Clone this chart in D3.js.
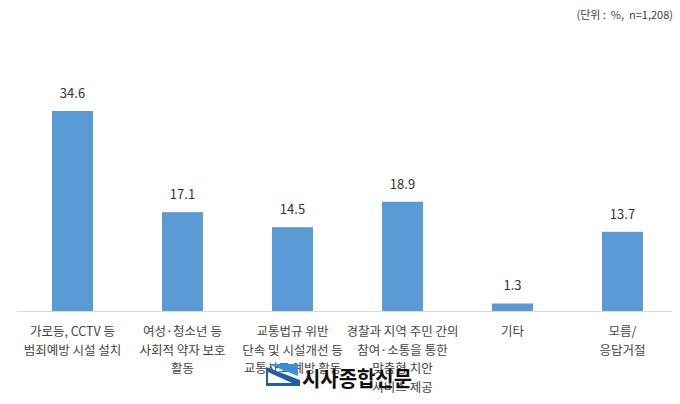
<!DOCTYPE html>
<html><head><meta charset="utf-8">
<script src="https://cdn.jsdelivr.net/npm/d3@7"></script>
<style>body{margin:0;background:#fff;} svg{display:block;}</style>
</head><body>
<svg id="c" width="680" height="404"></svg>
<script>
const categories = [
  ["가로등, CCTV 등","범죄예방 시설 설치"],
  ["여성·청소년 등","사회적 약자 보호","활동"],
  ["교통법규 위반","단속 및 시설개선 등","교통사고 예방 활동"],
  ["경찰과 지역 주민 간의","참여·소통을 통한","맞춤형 치안","서비스 제공"],
  ["기타"],
  ["모름/","응답거절"]
];
const values = [34.6, 17.1, 14.5, 18.9, 1.3, 13.7];
const unitLabel = "(단위 :  %,  n=1,208)";

const svg = d3.select("#c");
const font = "'Noto Sans CJK KR','Noto Sans',sans-serif";
const x = d3.scaleBand().domain(d3.range(values.length)).range([17.5, 677.5]).paddingInner(0).paddingOuter(0);
const y = d3.scaleLinear().domain([0, 34.6]).range([311, 111]);
const bw = 41;

svg.append("text").attr("x", 673).attr("y", 19).attr("text-anchor", "end")
  .attr("font-family", font).attr("font-size", 11).attr("fill", "#444")
  .attr("xml:space", "preserve").style("white-space", "pre").text(unitLabel);

svg.append("line").attr("x1", 17).attr("x2", 672).attr("y1", 311.5).attr("y2", 311.5)
  .attr("stroke", "#d9d9d9").attr("stroke-width", 1);

const g = svg.selectAll("g.bar").data(values).join("g").attr("class", "bar");
g.append("rect")
  .attr("x", (d, i) => x(i) + x.bandwidth() / 2 - bw / 2)
  .attr("width", bw)
  .attr("y", d => y(d))
  .attr("height", d => y(0) - y(d))
  .attr("fill", "#5b9bd5");
g.append("text")
  .attr("x", (d, i) => x(i) + x.bandwidth() / 2)
  .attr("y", d => y(d) - 13)
  .attr("text-anchor", "middle").attr("font-family", font).attr("font-size", 13)
  .attr("fill", "#333").text(d => d.toFixed(1));

const lab = svg.selectAll("text.cat").data(categories).join("text").attr("class", "cat")
  .attr("text-anchor", "middle").attr("font-family", font).attr("font-size", 12.5).attr("fill", "#444");
lab.each(function(lines, i) {
  const t = d3.select(this);
  lines.forEach((l, j) => {
    t.append("tspan").attr("x", x(i) + x.bandwidth() / 2).attr("y", 336 + j * 18.5).text(l);
  });
});

// watermark
const wm = svg.append("g");
wm.append("path").attr("d", "M266,367 L300,380 L300,386 L266,386 Z").attr("fill", "#1f5fa8");
wm.append("path").attr("d", "M268,364 L298,364 L298,376 Z").attr("fill", "#3a8fd6");
wm.append("path").attr("d", "M268,372 L292,383 L268,383 Z").attr("fill", "#fff");
wm.append("text").attr("x", 302).attr("y", 386).attr("font-family", font).attr("font-weight", "bold")
  .attr("font-size", 21).attr("textLength", 110).attr("lengthAdjust", "spacingAndGlyphs")
  .attr("fill", "#111").text("시사종합신문");
</script>
</body></html>
